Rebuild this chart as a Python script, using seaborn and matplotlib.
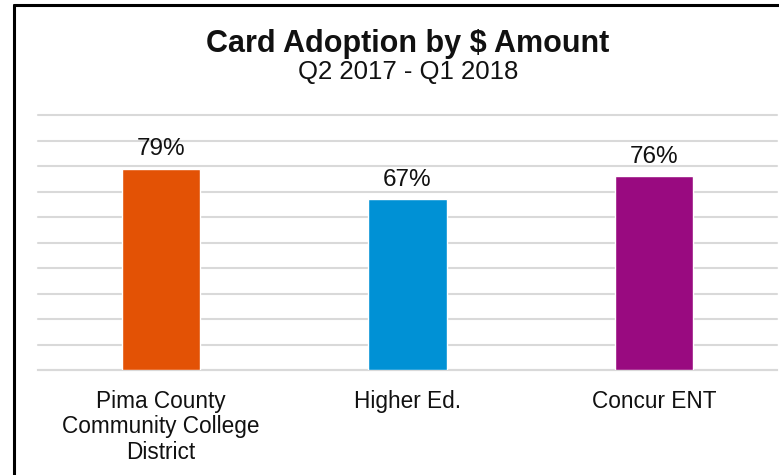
import pandas as pd
import seaborn as sns
import matplotlib.pyplot as plt
from matplotlib.lines import Line2D

# dados do gráfico
categorias = ["Pima County\nCommunity College\nDistrict", "Higher Ed.", "Concur ENT"]
adocao = [0.79, 0.67, 0.76]
cores = ["#E35205", "#0091D5", "#990A80"]
rotulos = ["79%", "67%", "76%"]

df = pd.DataFrame({"categoria": categorias, "adocao": adocao})

sns.set_style("white")
plt.rcParams["font.family"] = ["Liberation Sans", "DejaVu Sans"]

fig = plt.figure(figsize=(7.79, 4.75), dpi=100)
ax = fig.add_axes([38 / 779, 1 - 370 / 475, 739 / 779, 255 / 475])

sns.barplot(data=df, x="categoria", y="adocao", hue="categoria",
            palette=cores, saturation=1, width=0.317, legend=False, ax=ax, zorder=3)

ax.set_ylim(0, 1)
ax.set_xlim(-0.5, 2.5)
ax.set_yticks([i / 10 for i in range(11)])
ax.yaxis.grid(True, color="#D9D9D9", linewidth=1.5, zorder=0)
for gl in ax.get_ygridlines():
    gl.set_clip_on(False)
ax.set_axisbelow(True)
ax.tick_params(axis="y", left=False, labelleft=False)
ax.tick_params(axis="x", bottom=False, labelsize=16.3, pad=11, labelcolor="#111111")
for t in ax.get_xticklabels():
    t.set_linespacing(1.13)
ax.set_xlabel("")
ax.set_ylabel("")
for s in ["top", "right", "left"]:
    ax.spines[s].set_visible(False)
ax.spines["bottom"].set_color("#D9D9D9")
ax.spines["bottom"].set_linewidth(1.5)

for barra, rot in zip(ax.patches, rotulos):
    ax.annotate(rot, (barra.get_x() + barra.get_width() / 2, barra.get_height()),
                xytext=(0, 6), textcoords="offset points",
                ha="center", va="bottom", fontsize=17.5, color="#111111")

fig.text(408 / 779, 1 - 52 / 475, "Card Adoption by $ Amount", ha="center",
         va="baseline", fontsize=22, fontweight="bold", color="#111111")
fig.text(408 / 779, 1 - 79 / 475, "Q2 2017 - Q1 2018", ha="center",
         va="baseline", fontsize=18.5, color="#111111")

# moldura (cortada à direita e embaixo)
fig.add_artist(Line2D([14 / 779, 14 / 779], [0, 1 - 5 / 475], color="black",
                      linewidth=2.2, transform=fig.transFigure))
fig.add_artist(Line2D([14 / 779, 1], [1 - 5 / 475, 1 - 5 / 475], color="black",
                      linewidth=2.2, transform=fig.transFigure))

plt.savefig("out.png", dpi=100)
